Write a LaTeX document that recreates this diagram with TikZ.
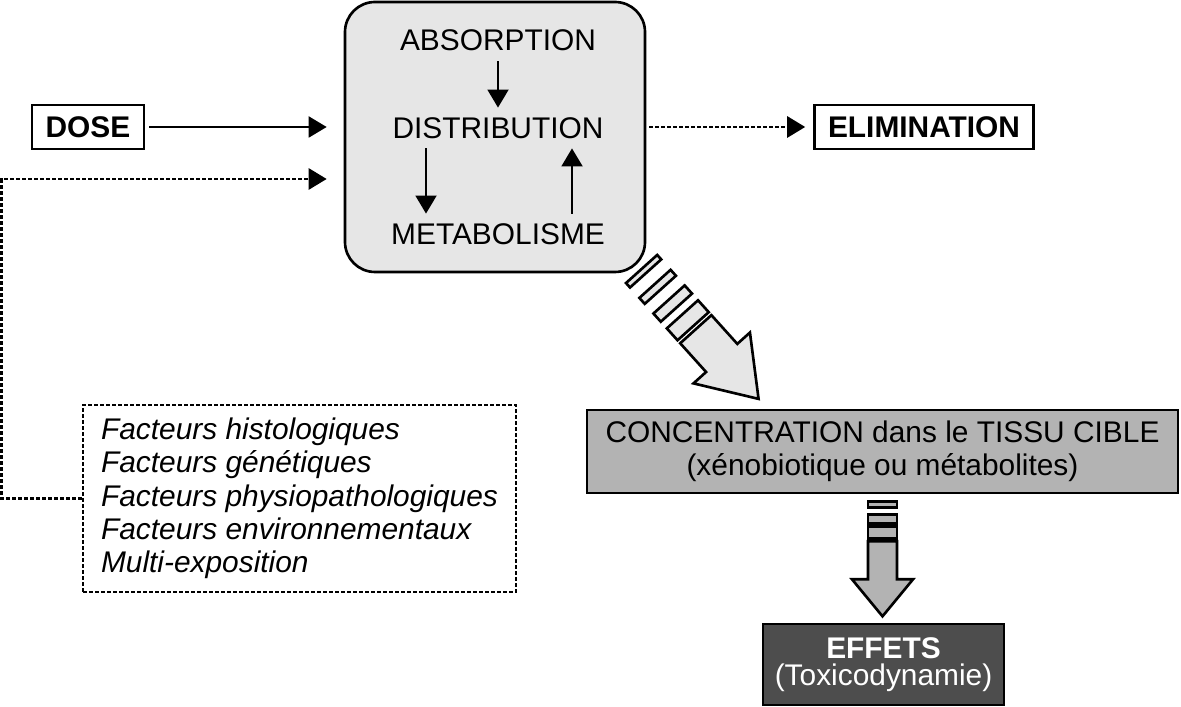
\documentclass[tikz,border=0pt]{standalone}
\usepackage{fontspec}
\setmainfont{Liberation Sans}
\usepackage{tikz}
\usetikzlibrary{arrows.meta}

\definecolor{lightgrey}{RGB}{230,230,230}
\definecolor{midgrey}{RGB}{179,179,179}
\definecolor{darkgrey}{RGB}{77,77,77}

\tikzset{
  label17/.style={font=\fontsize{17}{19}\selectfont, inner sep=0.19cm},
  framebox/.style={draw, line width=1.5pt, inner xsep=0.27cm, minimum height=0.88cm,
    font=\fontsize{17}{19}\selectfont\bfseries},
  flow/.style={line width=1.1pt, -{Triangle[length=0.36cm,width=0.42cm]}},
  dotflow/.style={flow, line width=1.6pt, dash pattern=on 0.08cm off 0.04cm},
  bigarrow/.style={draw, line width=1.5pt, line join=miter},
}

\begin{document}
\begin{tikzpicture}
\useasboundingbox (0,0) rectangle (23.62,14.12);

% Define the main boxes
\node[draw, line width=1.5pt, fill=lightgrey, rounded corners=0.6cm,
  minimum width=6cm, minimum height=5.4cm] (box) at (9.90,11.38) {};
\node[framebox] (dose) at (1.76,11.58) {DOSE};
\node[framebox] (elim) at (18.48,11.58) {ELIMINATION};

% Texts inside the rounded box
\node[label17] (abs) at (9.96,13.306) {ABSORPTION};
\node[label17] (dist) at (9.96,11.56) {DISTRIBUTION};
\node[label17] (met) at (9.96,9.44) {METABOLISME};

% Factors box
\node[draw, line width=1.6pt, dash pattern=on 0.08cm off 0.04cm, align=left,
  inner xsep=0.36cm, minimum height=3.74cm,
  font=\fontsize{17}{19}\selectfont\itshape] (fact) at (5.99,4.15)
  {Facteurs histologiques\\Facteurs génétiques\\Facteurs physiopathologiques\\
   Facteurs environnementaux\\Multi-exposition};

% Target tissue and effects
\node[draw, line width=1.5pt, fill=midgrey, align=center, minimum width=11.82cm,
  minimum height=1.66cm, font=\fontsize{17}{18.5}\selectfont] (conc) at (17.65,5.09)
  {CONCENTRATION dans le TISSU CIBLE\\(xénobiotique ou métabolites)};
\node[draw, line width=1.5pt, fill=darkgrey, text=white, align=center, minimum width=4.82cm,
  minimum height=1.62cm, font=\fontsize{17}{15.5}\selectfont] (eff) at (17.67,0.83)
  {\textbf{EFFETS}\\(Toxicodynamie)};

% Arrows inside the rounded box
\draw[flow] (abs) -- (dist);
\draw[flow] ([xshift=-1.44cm]dist.south) -- ([xshift=-1.44cm]met.north);
\draw[flow] ([xshift=1.48cm]met.north) -- ([xshift=1.48cm]dist.south);

% Arrows in and out
\draw[flow, shorten <=0.08cm, shorten >=0.34cm] (dose.east) -- (dose.east -| box.west);
\draw[dotflow, shorten >=0.34cm] (fact.west) -- ++(-1.6,0) |- ([yshift=-0.84cm]box.west);
\draw[dotflow, shorten <=0.06cm, shorten >=0.16cm] (box.east |- elim.west) -- (elim.west);

% Draw the big striped arrow
\begin{scope}[shift={(13.916,7.536)}, rotate=-48]
  \foreach \a/\b in {-1.62/-1.50, -1.22/-1.06, -0.80/-0.58, -0.40/-0.08}
    \draw[bigarrow, fill=lightgrey] (\a,-0.42) rectangle (\b,0.42);
  \draw[bigarrow, fill=lightgrey] (0,-0.42) -- (0.774,-0.42) -- (0.774,-0.76) -- (1.876,0)
    -- (0.774,0.76) -- (0.774,0.42) -- (0,0.42) -- cycle;
\end{scope}

% Draw the small striped arrow
\begin{scope}[shift={(conc.south)}]
  \foreach \a/\b in {-0.14/-0.26, -0.40/-0.58, -0.64/-0.88}
    \draw[bigarrow, fill=midgrey] (-0.29,\a) rectangle (0.29,\b);
  \draw[bigarrow, fill=midgrey] (-0.29,-0.94) -- (-0.29,-1.70) -- (-0.61,-1.70) -- (0,-2.44)
    -- (0.61,-1.70) -- (0.29,-1.70) -- (0.29,-0.94) -- cycle;
\end{scope}
\end{tikzpicture}
\end{document}
